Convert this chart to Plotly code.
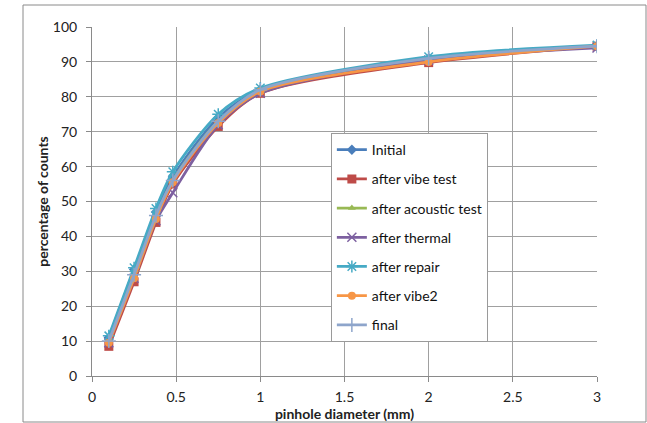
import plotly.graph_objects as go

x_mm = [0.1, 0.25, 0.38, 0.48, 0.75, 1, 2, 3]

series_names = ["Initial", "after vibe test", "after acoustic test", "after thermal",
                "after repair", "after vibe2", "final"]
initial = [11, 30.5, 47, 57, 74, 82, 91, 94.5]
after_vibe_test = [8.5, 27, 44, 55, 71.5, 81, 89.8, 94.5]
after_acoustic_test = [10, 29, 45.5, 56, 73, 81.5, 90.5, 94.5]
after_thermal = [9.5, 28, 44.5, 52.5, 72, 81, 90.5, 94]
after_repair = [11.5, 31, 48, 58.5, 75, 82.5, 91.5, 94.8]
after_vibe2 = [9.5, 28, 45, 55.5, 72.5, 81.5, 90, 94.5]
final = [10, 29, 46, 56, 73, 82, 91, 94.5]

series_values = [initial, after_vibe_test, after_acoustic_test, after_thermal,
                 after_repair, after_vibe2, final]
colors = ["#4A7EBB", "#BE4B48", "#98B954", "#7D60A0", "#46AAC5", "#F79646", "#8EA5CB"]
symbols = ["diamond", "square", "triangle-up", "x-thin", "asterisk", "circle", "cross-thin"]
msizes = [8, 9, 7, 9, 10, 8, 10]

x_ticks = [0, 0.5, 1, 1.5, 2, 2.5, 3]
x_tick_text = ["0", "0.5", "1", "1.5", "2", "2.5", "3"]
y_ticks = [0, 10, 20, 30, 40, 50, 60, 70, 80, 90, 100]

fig = go.Figure()
for i, (name, vals) in enumerate(zip(series_names, series_values)):
    sym = symbols[i]
    thin = sym.endswith("thin") or sym == "asterisk"
    fig.add_trace(go.Scatter(
        x=x_mm, y=vals, name=name, mode="lines+markers",
        line=dict(color=colors[i], width=2.75, shape="spline", smoothing=0.8),
        marker=dict(symbol=sym, size=msizes[i], color=colors[i],
                    line=dict(color=colors[i], width=1.5 if thin else 0)),
        legendgroup=name,
    ))

FONT = "Lato, 'Open Sans', sans-serif"
fig.update_layout(
    width=647, height=423,
    margin=dict(l=92, r=50, t=27, b=47, autoexpand=False),
    paper_bgcolor="white", plot_bgcolor="white",
    font=dict(family=FONT, size=14, color="#222222"),
    showlegend=True,
    legend=dict(
        x=0.473, y=0.696, xanchor="left", yanchor="top",
        bgcolor="white", bordercolor="#9a9a9a", borderwidth=1,
        font=dict(family=FONT, size=14, color="#111111"),
        traceorder="grouped", tracegroupgap=8,
        itemwidth=30,
    ),
    xaxis=dict(
        range=[0, 3], tickvals=x_ticks, ticktext=x_tick_text,
        showgrid=True, gridcolor="#a0a0a0", gridwidth=1,
        showline=True, linecolor="#8a8a8a", linewidth=1,
        ticks="outside", ticklen=5, tickcolor="#8a8a8a",
        ticklabelstandoff=3, automargin=False,
        zeroline=False,
        title=dict(text="<b>pinhole diameter (mm)</b>", font=dict(size=14), standoff=0),
    ),
    yaxis=dict(
        range=[0, 100], tickvals=y_ticks,
        showgrid=True, gridcolor="#a0a0a0", gridwidth=1,
        showline=True, linecolor="#8a8a8a", linewidth=1,
        ticks="outside", ticklen=5, tickcolor="#8a8a8a",
        ticklabelstandoff=6, automargin=False,
        zeroline=False,
        title=dict(text="<b>percentage of counts</b>", font=dict(size=14), standoff=0),
    ),
    shapes=[dict(type="rect", xref="paper", yref="paper",
                 x0=(23 - 92) / 505, x1=(646 - 92) / 505,
                 y0=(376 - 422) / 349, y1=(376 - 5) / 349,
                 line=dict(color="#8a8a8a", width=1), fillcolor="rgba(0,0,0,0)",
                 layer="below")],
)

fig.write_html("out.html")
